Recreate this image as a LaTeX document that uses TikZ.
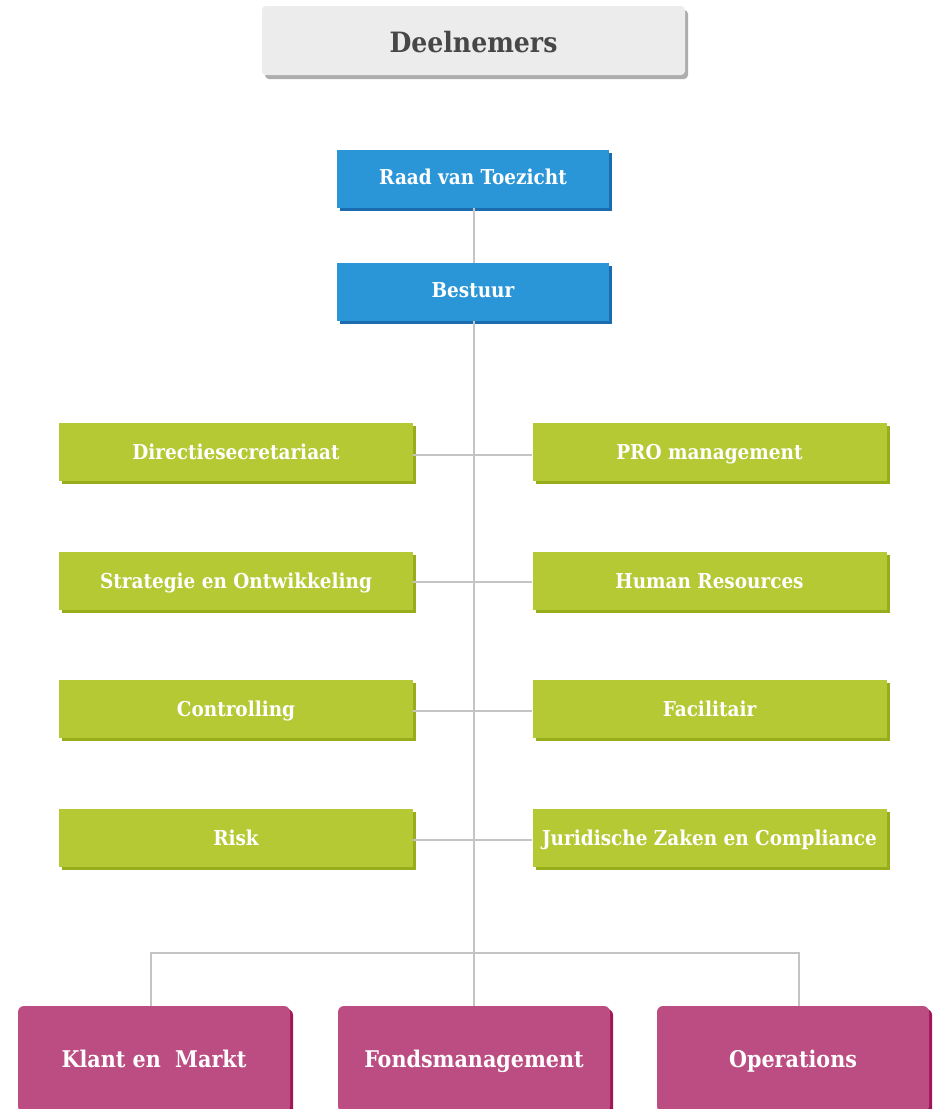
\documentclass[tikz,border=0pt]{standalone}
\usepackage{fontspec}
\setmainfont{DejaVu Serif Condensed}
\usetikzlibrary{shadows}
\definecolor{bluef}{HTML}{2B96D7}
\definecolor{blues}{HTML}{1B6BAF}
\definecolor{greenf}{HTML}{B5C934}
\definecolor{greens}{HTML}{97AD1B}
\definecolor{pinkf}{HTML}{BB4D82}
\definecolor{pinks}{HTML}{A01659}
\definecolor{grayf}{HTML}{ECECEC}
\definecolor{grays}{HTML}{ADADAD}
\definecolor{txtdark}{HTML}{474747}
\definecolor{linec}{HTML}{C4C4C4}
\tikzset{
  base/.style={rectangle, inner sep=0pt, text=white, text height=15pt, text depth=0pt,
     font=\fontsize{20.5}{24}\selectfont\bfseries},
  topbox/.style={base, fill=grayf, rounded corners=4pt, minimum width=423pt, minimum height=69pt,
     text=txtdark, font=\fontsize{28}{32}\selectfont\bfseries, text height=24.4pt,
     general shadow={fill=grays, shadow xshift=3pt, shadow yshift=-4pt}},
  bluebox/.style={base, fill=bluef, minimum width=272pt, minimum height=58pt, text height=11.5pt,
     general shadow={fill=blues, shadow xshift=3pt, shadow yshift=-3pt}},
  greenbox/.style={base, fill=greenf, minimum width=354pt, minimum height=58pt,
     general shadow={fill=greens, shadow xshift=3pt, shadow yshift=-3pt}},
  pinkbox/.style={base, fill=pinkf, minimum width=272pt, minimum height=106pt, rounded corners=6pt,
     font=\fontsize{23}{27}\selectfont\bfseries, text height=16.8pt,
     general shadow={fill=pinks, shadow xshift=3pt, shadow yshift=-3pt}},
  conn/.style={draw=linec, line width=1.3pt}
}
\begin{document}
\begin{tikzpicture}[x=1pt,y=-1pt]
\clip (0,0) rectangle (934,1109);
\fill[white] (0,0) rectangle (934,1109);
\coordinate (bl) at (151,953);
\coordinate (bm) at (474,953);
\coordinate (br) at (799,953);
\node[topbox] (deel) at (473.5,40.5) {Deelnemers};
\node[bluebox] (raad) at (473,179) {Raad van Toezicht};
\node[bluebox] (best) at (473,292) {Bestuur};
\node[greenbox] (l1) at (236,452) {Directiesecretariaat};
\node[greenbox] (l2) at (236,581) {Strategie en Ontwikkeling};
\node[greenbox] (l3) at (236,709) {Controlling};
\node[greenbox] (l4) at (236,838) {Risk};
\node[greenbox] (r1) at (709.5,452) {PRO management};
\node[greenbox] (r2) at (709.5,581) {Human Resources};
\node[greenbox] (r3) at (709.5,709) {Facilitair};
\node[greenbox] (r4) at (709.5,838) {Juridische Zaken en Compliance};
\node[pinkbox] (klant) at (154,1059) {Klant en\ \ Markt};
\node[pinkbox] (fonds) at (474,1059) {Fondsmanagement};
\node[pinkbox] (oper) at (793,1059) {Operations};
\draw[conn] (raad.south -| bm) -- (best.north -| bm);
\draw[conn] (best.south -| bm) -- (fonds.north -| bm);
\draw[conn] ([yshift=-3pt]l1.east) -- ([yshift=-3pt]r1.west);
\draw[conn] ([yshift=-1pt]l2.east) -- ([yshift=-1pt]r2.west);
\draw[conn] ([yshift=-2pt]l3.east) -- ([yshift=-2pt]r3.west);
\draw[conn] ([yshift=-2pt]l4.east) -- ([yshift=-2pt]r4.west);
\draw[conn] (bl |- klant.north) -- (bl) -- (br) -- (br |- oper.north);
\end{tikzpicture}
\end{document}
